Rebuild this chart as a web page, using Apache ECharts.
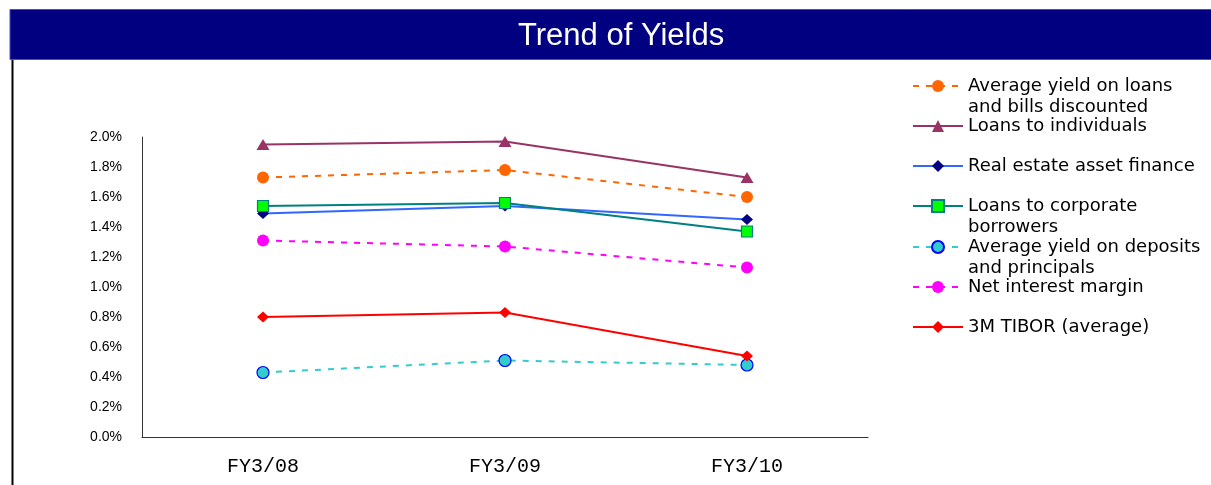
<!DOCTYPE html>
<html>
<head>
<meta charset="utf-8">
<script src="https://cdn.jsdelivr.net/npm/echarts@6/dist/echarts.min.js"></script>
<style>
  html, body { margin: 0; padding: 0; background: #fff; }
  #chart { width: 1211px; height: 485px; }
</style>
</head>
<body>
<div id="chart"></div>
<script>
var categories = ['FY3/08', 'FY3/09', 'FY3/10'];
var seriesNames = [
  'Average yield on loans\nand bills discounted',
  'Loans to individuals',
  'Real estate asset finance',
  'Loans to corporate\nborrowers',
  'Average yield on deposits\nand principals',
  'Net interest margin',
  '3M TIBOR (average)'
];
var loansBills = [1.73, 1.78, 1.60];
var individuals = [1.95, 1.97, 1.73];
var realEstate = [1.49, 1.54, 1.45];
var corporate = [1.54, 1.56, 1.37];
var deposits = [0.43, 0.51, 0.48];
var netMargin = [1.31, 1.27, 1.13];
var tibor = [0.80, 0.83, 0.54];
var yMin = 0, yMax = 2.0, yStep = 0.2;

(function() {
  var chart = echarts.init(document.getElementById('chart'), null, { renderer: 'canvas' });

  // legend rows: icon centre y for each series
  var legendY = [86, 126, 166, 206, 247, 287, 327];
  var lh = 21;
  var legends = seriesNames.map(function(name, i) {
    var twoLines = name.indexOf('\n') >= 0;
    return {
      data: [name],
      left: 912,
      // two-line labels get an empty line on top so the first line sits on the icon
      top: legendY[i] - (twoLines ? lh * 1.5 : lh / 2),
      padding: 0,
      itemWidth: 50,
      itemHeight: 15,
      selectedMode: false,
      formatter: function(n) { return n.indexOf('\n') >= 0 ? ' \n' + n : n; },
      textStyle: {
        color: '#000',
        fontFamily: 'DejaVu Sans',
        fontSize: 18,
        lineHeight: lh
      }
    };
  });

  function line(name, data, color, dash, symbol, size, fill, border) {
    return {
      name: name,
      type: 'line',
      data: data,
      symbol: symbol,
      symbolSize: size,
      showAllSymbol: true,
      lineStyle: { color: color, width: 2, type: dash ? [6, 7] : 'solid' },
      itemStyle: { color: fill, borderColor: border || fill, borderWidth: border ? 1.2 : 0 },
      emphasis: { disabled: true }
    };
  }

  chart.setOption({
    animation: false,
    title: {
      text: 'Trend of Yields',
      left: 513,
      top: 16,
      textStyle: { color: '#fff', fontFamily: 'Liberation Sans', fontSize: 31, fontWeight: 'normal' }
    },
    graphic: [
      { type: 'rect', shape: { x: 10, y: 9.5, width: 1205, height: 50 },
        style: { fill: '#000080', stroke: '#4a4ad0', lineWidth: 1 } },
      { type: 'line', shape: { x1: 12.5, y1: 60, x2: 12.5, y2: 490 },
        style: { stroke: '#000', lineWidth: 2 } }
    ],
    legend: legends,
    grid: { left: 142, right: 343, top: 137, bottom: 48, containLabel: false },
    xAxis: {
      type: 'category',
      data: categories,
      boundaryGap: true,
      axisLine: { lineStyle: { color: '#333', width: 1 } },
      axisTick: { show: false },
      axisLabel: { color: '#000', fontFamily: 'Liberation Mono', fontSize: 20, margin: 20 }
    },
    yAxis: {
      type: 'value',
      min: yMin,
      max: yMax,
      interval: yStep,
      axisLine: { show: true, lineStyle: { color: '#333', width: 1 } },
      axisTick: { show: false },
      splitLine: { show: false },
      axisLabel: {
        color: '#000', fontFamily: 'Liberation Sans', fontSize: 14, margin: 20,
        formatter: function(v) { return v.toFixed(1) + '%'; }
      }
    },
    series: [
      line(seriesNames[0], loansBills, '#FF6600', true, 'circle', 12, '#FF6600'),
      line(seriesNames[1], individuals, '#993366', false, 'triangle', [13, 11], '#993366'),
      line(seriesNames[2], realEstate, '#3366FF', false, 'diamond', [12, 11], '#000080'),
      line(seriesNames[3], corporate, '#008080', false, 'rect', 11, '#00FF00', '#008080'),
      line(seriesNames[4], deposits, '#33CCCC', true, 'circle', 12, '#33CCCC', '#0000FF'),
      line(seriesNames[5], netMargin, '#FF00FF', true, 'circle', 12, '#FF00FF'),
      line(seriesNames[6], tibor, '#FF0000', false, 'diamond', [12, 11], '#FF0000')
    ]
  });
  window.addEventListener('resize', function() { chart.resize(); });
})();
</script>
</body>
</html>
